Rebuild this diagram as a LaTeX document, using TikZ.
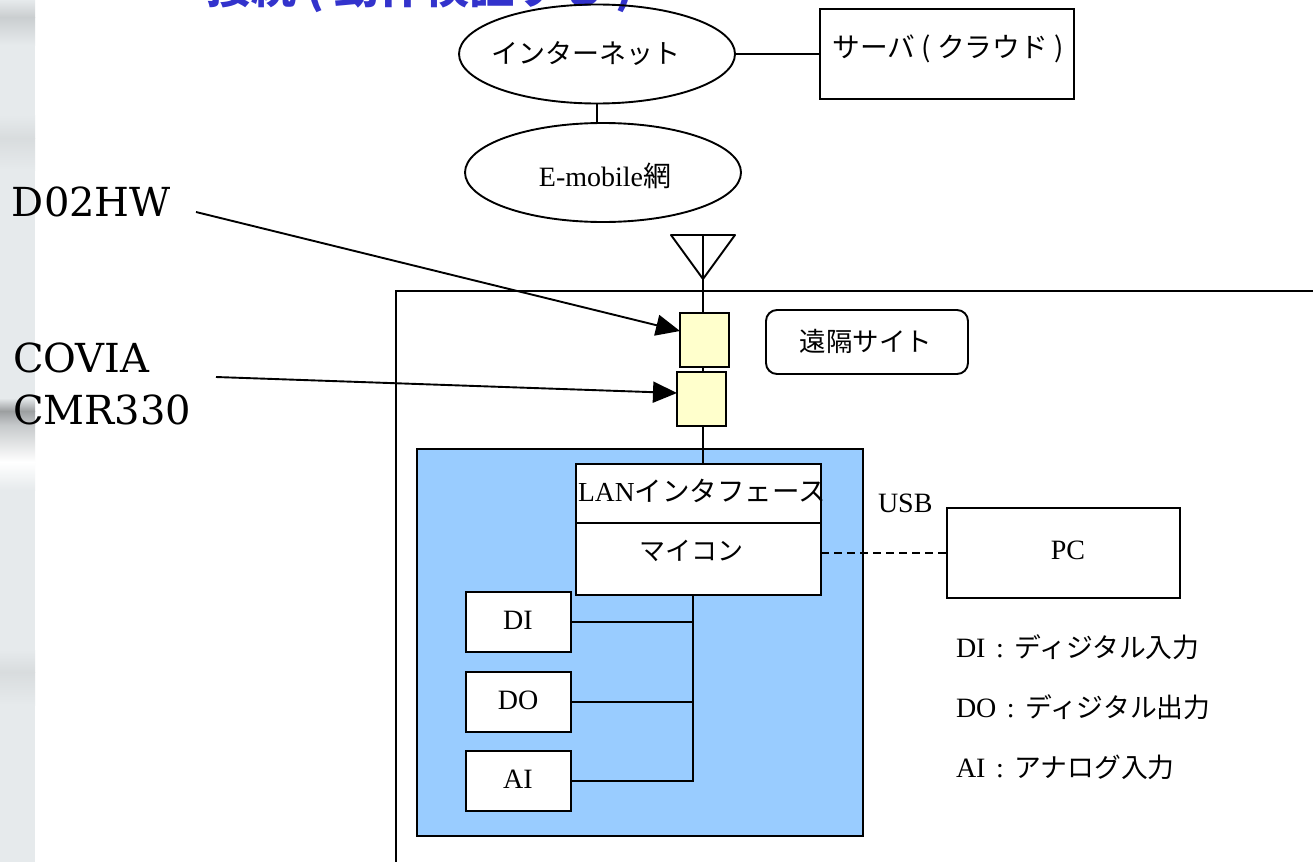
\documentclass[tikz,border=0pt]{standalone}
\usepackage{fontspec}
\setmainfont{Liberation Serif}
\newfontfamily\cj{Noto Sans CJK JP}
\newfontfamily\bigf{DejaVu Serif}
\usetikzlibrary{shapes.geometric,arrows.meta}
\definecolor{bluefill}{HTML}{99CCFF}
\definecolor{yel}{HTML}{FFFFCC}
\definecolor{title}{HTML}{3333CC}
\definecolor{strip}{HTML}{E6EAEC}
\newcommand{\lgd}[1]{{\cj\fontsize{26.8}{28}\selectfont #1}}
\tikzset{
 x=1pt,y=-1pt,
 ln/.style={line width=1.9pt,black},
 bx/.style={draw=black,line width=1.9pt,fill=white,rectangle,inner sep=0pt,outer sep=0pt},
 yb/.style={bx,fill=yel,minimum width=49pt,minimum height=54pt},
 el/.style={draw=black,line width=1.9pt,ellipse,inner sep=0pt,outer sep=0pt,minimum width=276pt,minimum height=99pt},
 tx/.style={inner sep=0pt,outer sep=0pt,font=\fontsize{28}{28}\selectfont},
 big/.style={inner sep=0pt,outer sep=0pt,anchor=base west,font=\bigf\fontsize{40}{40}\selectfont},
 hd/.style={-{Triangle[length=24pt,width=21pt]}}
}
\begin{document}
\begin{tikzpicture}
\useasboundingbox (0,0) rectangle (1313,862);
\fill[white] (0,0) rectangle (1313,862);
% textured strip at the left
\fill[strip] (0,0) rectangle (35,862);
\shade[top color=strip,bottom color=black!12!strip] (0,0) rectangle (35,17);
\shade[top color=black!12!strip,bottom color=strip] (0,17) rectangle (35,45);
\shade[top color=strip,bottom color=black!6!strip] (0,115) rectangle (35,138);
\shade[top color=black!6!strip,bottom color=strip] (0,138) rectangle (35,170);
\shade[top color=strip,bottom color=black!32!strip] (0,398) rectangle (35,411);
\shade[top color=black!32!strip,bottom color=black!14!strip] (0,411) rectangle (35,425);
\shade[top color=black!14!strip,bottom color=white] (0,425) rectangle (35,462);
\shade[top color=white,bottom color=strip] (0,462) rectangle (35,490);
\shade[top color=strip,bottom color=black!6!strip] (0,650) rectangle (35,672);
\shade[top color=black!6!strip,bottom color=strip] (0,672) rectangle (35,705);
% frame
\coordinate (fa) at (1313,291);
\coordinate (fb) at (396,291);
\coordinate (fc) at (396,862);
\draw[ln,line width=1.6pt] (fa) -- (fb) -- (fc);
% heading cut by the top edge
\node[inner sep=0pt,anchor=base west,text=title,font=\cj\bfseries\fontsize{45}{45}\selectfont] (head) at (206,4) {接続 ( 動作検証する )};
% top nodes
\node[el] (net) at (597,54) {};
\node[tx,font=\cj\fontsize{27}{27}\selectfont] at (585.5,54) {インターネット};
\node[el] (emob) at (603,172.5) {};
\node[tx] at (605,176) {E-mobile{\cj 網}};
\node[bx,minimum width=254pt,minimum height=90pt,fill=none] (srv) at (947,54) {};
\node[tx,font=\cj\fontsize{27.7}{28}\selectfont] at (948,49) {サーバ ( クラウド )};
\draw[ln] (net.east) -- (srv.west);
\coordinate (n1) at (597,104);
\coordinate (n2) at (597,123);
\draw[ln] (n1) -- (n2);
% antenna
\coordinate (anta) at (671,235);
\coordinate (antb) at (735,235);
\coordinate (antc) at (703,279);
\coordinate (antt) at (703,235);
\draw[ln,line join=round] (anta) -- (antb) -- (antc) -- cycle;
% yellow boxes
\node[yb] (y1) at (704.5,340) {};
\node[yb] (y2) at (701.5,399) {};
\draw[ln] (antt) -- (703,313);
\draw[ln] (703,367) -- (703,372);
% site label
\node[bx,rounded corners=11pt,minimum width=202pt,minimum height=64pt] (site) at (867,342) {};
\node[tx,font=\cj\fontsize{26.5}{26}\selectfont] at (866,341) {遠隔サイト};
% blue board
\node[bx,fill=bluefill,minimum width=446pt,minimum height=387pt] (board) at (640,642.5) {};
\draw[ln] (703,426) -- (703,464);
\node[bx,minimum width=245pt,minimum height=59pt] (lan) at (698.5,493.5) {};
\node[bx,minimum width=245pt,minimum height=72pt] (mcu) at (698.5,559) {};
\node[tx,font=\fontsize{27.5}{28}\selectfont] at (702,491) {LAN{\cj インタフェース}};
\node[tx,font=\cj\fontsize{26}{26}\selectfont] at (691,551) {マイコン};
\node[bx,minimum width=105pt,minimum height=60pt] (di) at (518.5,622) {};
\node[bx,minimum width=105pt,minimum height=60pt] (do) at (518.5,702) {};
\node[bx,minimum width=105pt,minimum height=60pt] (ai) at (518.5,781) {};
\node[tx] at (518,620) {DI};
\node[tx] at (518,700) {DO};
\node[tx] at (518,779) {AI};
\coordinate (bus) at (693,595);
\draw[ln] (bus) -- (693,781) -- (ai.east);
\draw[ln] (di.east) -- (693,622);
\draw[ln] (do.east) -- (693,702);
% PC
\node[bx,minimum width=233pt,minimum height=90pt] (pc) at (1063.5,553) {};
\node[tx] at (1068,550) {PC};
\draw[ln,dash pattern=on 8pt off 5pt] (mcu.east |- pc.west) -- (pc.west);
\node[tx,anchor=base west] at (878,512) {USB};
% legend
\node[tx,anchor=base west] at (956,657) {DI\hspace{3.5pt} : \hspace{3.5pt}\lgd{ディジタル入力}};
\node[tx,anchor=base west] at (956,717) {DO\hspace{3.5pt} : \hspace{3.5pt}\lgd{ディジタル出力}};
\node[tx,anchor=base west] at (956,777) {AI\hspace{3.5pt} : \hspace{3.5pt}\lgd{アナログ入力}};
% callouts
\node[big] (d02) at (12,216) {D02HW};
\node[big] (cov) at (13,372) {COVIA};
\node[big] (cmr) at (13,424) {CMR330};
\coordinate (da) at (196,212);
\coordinate (ca) at (216,377);
\draw[ln,hd] (da) -- ([yshift=9pt]y1.west);
\draw[ln,hd] (ca) -- ([yshift=6pt]y2.west);
\end{tikzpicture}
\end{document}
